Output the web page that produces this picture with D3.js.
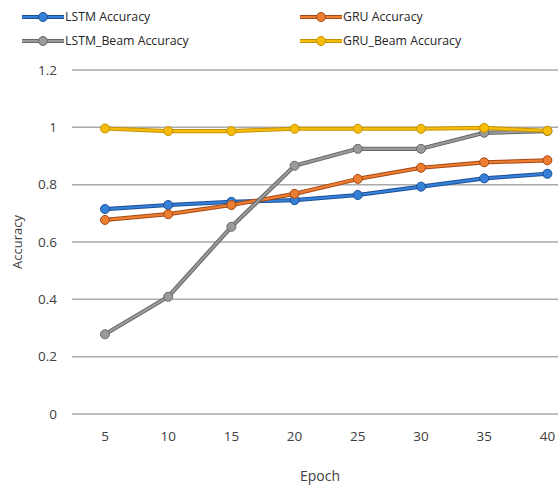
<!DOCTYPE html>
<html><head><meta charset="utf-8">
<script src="https://cdn.jsdelivr.net/npm/d3@7"></script>
<style>html,body{margin:0;padding:0;background:#fff;overflow:hidden}</style>
</head><body>
<svg id="c" width="558" height="493"></svg>
<script>
const epochs = ["5","10","15","20","25","30","35","40"];
const lstm = [0.715,0.729,0.740,0.746,0.764,0.793,0.822,0.838];
const gru = [0.677,0.697,0.729,0.768,0.820,0.859,0.878,0.885];
const lstmBeam = [0.278,0.409,0.653,0.866,0.925,0.925,0.981,0.987];
const gruBeam = [0.996,0.987,0.987,0.995,0.995,0.995,0.998,0.988];
const yTicks = [0,0.2,0.4,0.6,0.8,1,1.2];
const seriesNames = ["LSTM Accuracy","GRU Accuracy","LSTM_Beam Accuracy","GRU_Beam Accuracy"];
const seriesColors = ["#3580d8","#ed7d31","#9a9a9a","#f7bd0c"];
const seriesEdges = ["#1d4f96","#a44a18","#686868","#c69300"];

const seriesValues = [lstm, gru, lstmBeam, gruBeam];
const svg = d3.select("#c");
const font = "'Open Sans', sans-serif";
const x = d3.scaleBand().domain(epochs).range([73.4, 579]).padding(0);
const y = d3.scaleLinear().domain([0,1.2]).range([414,70]);
const cx = d => x(d) + x.bandwidth()/2;

// gridlines
svg.append("g").selectAll("line").data(yTicks).join("line")
  .attr("x1",72).attr("x2",579)
  .attr("y1",d=>y(d)).attr("y2",d=>y(d))
  .attr("stroke","#ababab").attr("stroke-width",1.5);

// y tick labels
svg.append("g").selectAll("text").data(yTicks).join("text")
  .attr("x",57).attr("y",d=>y(d)).attr("dy","0.35em")
  .attr("text-anchor","end").attr("font-family",font).attr("font-size",13.5)
  .attr("fill","#404040").text(d=>d);

// x tick labels
svg.append("g").selectAll("text").data(epochs).join("text")
  .attr("x",d=>cx(d)).attr("y",436).attr("dy","0.35em")
  .attr("text-anchor","middle").attr("font-family",font).attr("font-size",13.5)
  .attr("fill","#404040").text(d=>d);

// axis titles
svg.append("text").attr("x",320).attr("y",476).attr("dy","0.35em")
  .attr("text-anchor","middle").attr("font-family",font).attr("font-size",14)
  .attr("fill","#404040").text("Epoch");
svg.append("text").attr("transform","translate(17,242) rotate(-90)").attr("dy","0.35em")
  .attr("text-anchor","middle").attr("font-family",font).attr("font-size",13)
  .attr("fill","#404040").text("Accuracy");

const line = d3.line().x((d,i)=>cx(epochs[i])).y(d=>y(d));
[0,1,2,3].forEach(s => {
  const g = svg.append("g");
  g.append("path").datum(seriesValues[s]).attr("d",line).attr("fill","none")
    .attr("stroke",seriesEdges[s]).attr("stroke-width",4.2).attr("stroke-linejoin","round");
  g.append("path").datum(seriesValues[s]).attr("d",line).attr("fill","none")
    .attr("stroke",seriesColors[s]).attr("stroke-width",2.2).attr("stroke-linejoin","round");
  g.selectAll("circle").data(seriesValues[s]).join("circle")
    .attr("cx",(d,i)=>cx(epochs[i])).attr("cy",d=>y(d)).attr("r",4.5)
    .attr("fill",seriesColors[s]).attr("stroke",seriesEdges[s]).attr("stroke-width",1);
});

// legend
const legPos = [[22,17],[300,17],[22,41],[300,41]];
seriesNames.forEach((n,s)=>{
  const [lx,ly] = legPos[s];
  const g = svg.append("g");
  g.append("line").attr("x1",lx).attr("x2",lx+42).attr("y1",ly).attr("y2",ly)
    .attr("stroke",seriesEdges[s]).attr("stroke-width",4.2);
  g.append("line").attr("x1",lx).attr("x2",lx+42).attr("y1",ly).attr("y2",ly)
    .attr("stroke",seriesColors[s]).attr("stroke-width",2.2);
  g.append("circle").attr("cx",lx+21).attr("cy",ly).attr("r",4.5)
    .attr("fill",seriesColors[s]).attr("stroke",seriesEdges[s]).attr("stroke-width",1);
  g.append("text").attr("x",lx+43).attr("y",ly).attr("dy","0.35em")
    .attr("font-family",font).attr("font-size",12.3).attr("fill","#262626").text(n);
});
</script>
</body></html>
